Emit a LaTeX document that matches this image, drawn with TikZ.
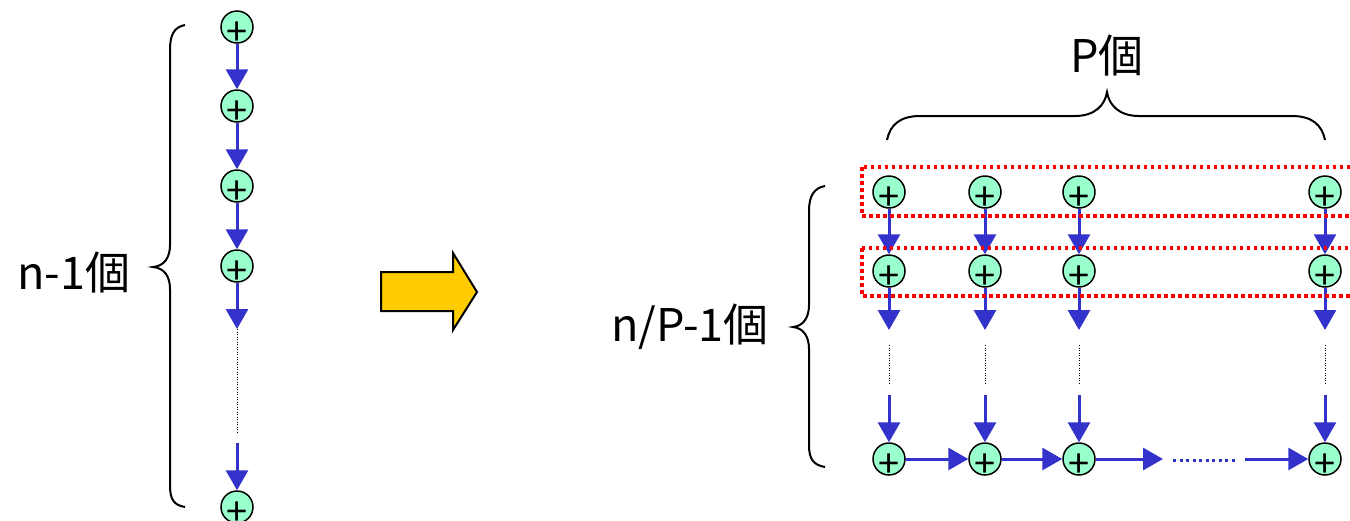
\documentclass[tikz,border=0pt]{standalone}
\usepackage{fontspec}
\setmainfont{Noto Sans CJK JP}
\usetikzlibrary{arrows.meta}
\definecolor{mint}{RGB}{153,255,204}
\definecolor{flowblue}{RGB}{51,51,204}
\definecolor{gold}{RGB}{255,204,0}
\newcommand\plussign{\raisebox{-18pt}[0pt][0pt]{+}}
\begin{document}
\begin{tikzpicture}[x=1pt,y=-1pt,
 addnode/.style={circle,draw=black,line width=1.5pt,fill=mint,minimum size=32pt,inner sep=0pt,font=\fontsize{38}{38}\selectfont},
 flow/.style={draw=flowblue,line width=3pt,-{Triangle[width=22pt,length=20pt]}},
 flowline/.style={draw=flowblue,line width=3pt},
 flowdots/.style={draw=flowblue,line width=3pt,dash pattern=on 3pt off 3.5pt},
 gap/.style={draw=black,line width=1pt,dash pattern=on 1pt off 1.5pt},
 group/.style={draw=red,line width=3.5pt,dash pattern=on 3.5pt off 3.5pt},
 brace/.style={draw=black,line width=2pt},
 count/.style={font=\fontsize{45}{45}\selectfont,inner sep=0pt}]
\useasboundingbox (0,0) rectangle (1350,520);

% ---------- left chain ----------
\node[addnode] (L1) at (237,27) {\plussign};
\node[addnode] (L2) at (237,106) {\plussign};
\node[addnode] (L3) at (237,186) {\plussign};
\node[addnode] (L4) at (237,266) {\plussign};
\node[addnode] (L5) at (237,507) {\plussign};
\coordinate (La) at (237,329);
\coordinate (Lb) at (237,329);
\coordinate (Lc) at (237,433);
\coordinate (Ld) at (237,443);
\draw[flow] (L1) -- (L2);
\draw[flow] (L2) -- (L3);
\draw[flow] (L3) -- (L4);
\draw[flow] (L4) -- (La);
\draw[gap] (Lb) -- (Lc);
\draw[flow] (Ld) -- (L5);

\draw[brace] (185,25) .. controls (174,27) and (170,35) .. (170,50) -- (170,245)
  .. controls (170,258) and (164,266) .. (153,267)
  .. controls (164,268) and (170,276) .. (170,289) -- (170,485)
  .. controls (170,500) and (174,505) .. (185,507);
\node[count] (lefttext) at (74,273) {n-1個};

% ---------- big yellow arrow ----------
\draw[line width=2pt,fill=gold,line join=miter] (381,272) -- (453,272) -- (453,253) -- (477,292)
  -- (453,330) -- (453,311) -- (381,311) -- cycle;

% ---------- right grid ----------
\foreach \c/\x in {1/889,2/985,3/1079,4/1325}{
  \node[addnode] (A\c) at (\x,192) {\plussign};
  \node[addnode] (B\c) at (\x,271) {\plussign};
  \node[addnode] (C\c) at (\x,459) {\plussign};
  \coordinate (P\c) at (\x,330);
  \coordinate (Q\c) at (\x,345);
  \coordinate (R\c) at (\x,385);
  \coordinate (S\c) at (\x,395);
  \draw[flow] (A\c) -- (B\c);
  \draw[flow] (B\c) -- (P\c);
  \draw[gap] (Q\c) -- (R\c);
  \draw[flow] (S\c) -- (C\c);
}
\coordinate (H1) at (1163,459);
\coordinate (H2) at (1173,460);
\coordinate (H3) at (1237,460);
\coordinate (H4) at (1245,459);
\draw[flow] (C1) -- (C2);
\draw[flow] (C2) -- (C3);
\draw[flow] (C3) -- (H1);
\draw[flowdots] (H2) -- (H3);
\draw[flow] (H4) -- (C4);

\draw[group] (862,167) rectangle (1365,216);
\draw[group] (862,248) rectangle (1365,296);

\draw[brace] (825,186) .. controls (814,188) and (809,196) .. (809,211) -- (809,305)
  .. controls (809,318) and (803,326) .. (793,327)
  .. controls (803,328) and (809,336) .. (809,349) -- (809,445)
  .. controls (809,460) and (814,465) .. (825,467);
\node[count] (righttext) at (690,327) {n/P-1個};

\draw[brace] (887,140) .. controls (890,125) and (900,116) .. (920,116) -- (1075,116)
  .. controls (1095,116) and (1105,105) .. (1107,92)
  .. controls (1109,105) and (1119,116) .. (1139,116) -- (1292,116)
  .. controls (1312,116) and (1322,125) .. (1325,140);
\node[count] (toptext) at (1107,56) {P個};
\end{tikzpicture}
\end{document}
